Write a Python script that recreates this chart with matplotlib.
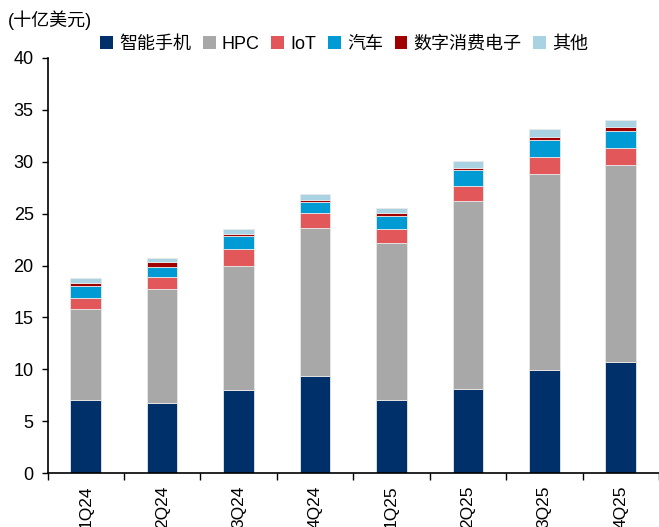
import matplotlib
matplotlib.use("Agg")
import matplotlib.pyplot as plt
import numpy as np
from matplotlib.patches import Patch

plt.rcParams['font.family'] = ['Liberation Sans', 'Noto Sans CJK SC', 'DejaVu Sans']

quarters = ['1Q24', '2Q24', '3Q24', '4Q24', '1Q25', '2Q25', '3Q25', '4Q25']
series_names = ['智能手机', 'HPC', 'IoT', '汽车', '数字消费电子', '其他']
smartphone = [7.1, 6.8, 8.0, 9.4, 7.1, 8.1, 9.9, 10.75]
hpc = [8.7, 10.9, 12.0, 14.25, 15.1, 18.1, 18.9, 18.9]
iot = [1.1, 1.2, 1.6, 1.4, 1.3, 1.45, 1.6, 1.7]
auto = [1.1, 1.0, 1.2, 1.05, 1.3, 1.5, 1.7, 1.6]
consumer = [0.35, 0.4, 0.2, 0.25, 0.23, 0.25, 0.25, 0.35]
other = [0.42, 0.4, 0.5, 0.55, 0.54, 0.65, 0.75, 0.67]
colors = ['#00306A', '#A8A8A8', '#E2575A', '#009BD5', '#A00000', '#A9D3E2']

fig = plt.figure(figsize=(6.59, 5.27), dpi=100)
ax = fig.add_axes([0.0721, 0.1019, 0.9279, 0.7886])

x = np.arange(len(quarters))
bottom = np.zeros(len(quarters))
for vals, col in zip([smartphone, hpc, iot, auto, consumer, other], colors):
    ax.bar(x, vals, width=0.4, bottom=bottom, color=col, edgecolor='#E8E8E8', linewidth=0.6)
    bottom += np.array(vals)

ax.set_xlim(-0.5, 7.5)
ax.set_ylim(0, 40)
ax.set_yticks(np.arange(0, 41, 5))
ax.tick_params(axis='y', labelsize=13, length=4, width=1, direction='out', pad=6)
ax.set_xticks(np.arange(-0.5, 8, 1))
ax.set_xticklabels([])
ax.set_xticks(x, minor=True)
ax.set_xticklabels(quarters, minor=True, rotation=90, fontsize=12.5, va='top', ha='center')
ax.tick_params(axis='x', which='major', length=5, width=1, direction='out')
ax.tick_params(axis='x', which='minor', length=0, pad=9)
for s in ['top', 'right']:
    ax.spines[s].set_visible(False)
for s in ['left', 'bottom']:
    ax.spines[s].set_linewidth(1.2)

fig.text(0.012, 0.961, '(十亿美元)', fontsize=13, ha='left', va='center')

handles = [Patch(facecolor=c, edgecolor='none') for c in colors]
fig.legend(handles, series_names, loc='center left', bbox_to_anchor=(0.152, 0.916),
           ncol=6, frameon=False, fontsize=13, handlelength=0.7, handleheight=0.7,
           handletextpad=0.35, columnspacing=0.65, borderaxespad=0, borderpad=0)

fig.savefig('out.png', dpi=100)
